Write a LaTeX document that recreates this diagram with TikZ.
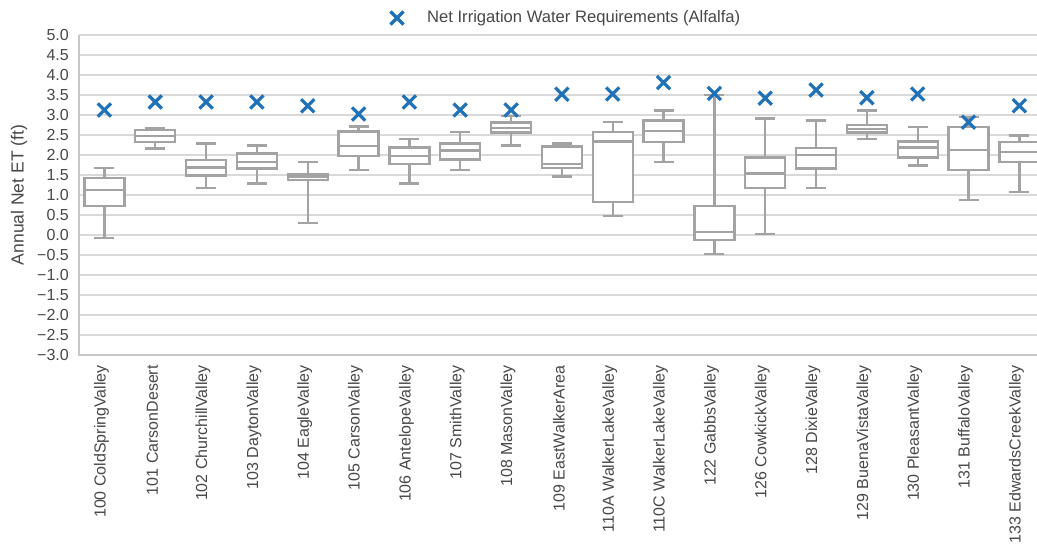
\documentclass[tikz,border=0pt]{standalone}
\usepackage{fontspec}
\setmainfont{Liberation Sans}
\usetikzlibrary{shapes.misc}
\definecolor{gridc}{HTML}{D9D9D9}
\definecolor{axisc}{HTML}{C8C8C8}
\definecolor{boxc}{HTML}{A3A3A3}
\definecolor{txtc}{HTML}{484848}
\definecolor{markc}{RGB}{31,113,184}
\tikzset{
  lbl/.style={font=\fontsize{16}{19}\selectfont, text=txtc, inner sep=0pt},
  gridl/.style={draw=gridc, line width=1.5pt},
  boxst/.style={draw=boxc, line width=2.3pt, fill=white},
  whisk/.style={draw=boxc, line width=2.3pt},
  markx/.style={cross out, draw=markc, line width=3.2pt, minimum size=10pt, inner sep=0pt},
}
\begin{document}
\begin{tikzpicture}[x=1pt, y=-1pt]
\useasboundingbox (0,0) rectangle (1037,553);
\fill[white] (0,0) rectangle (1037,553);
% gridlines and tick labels
\foreach \t [count=\k from 0] in {5.0,4.5,4.0,3.5,3.0,2.5,2.0,1.5,1.0,0.5,0.0,−0.5,−1.0,−1.5,−2.0,−2.5,−3.0}{
  \pgfmathsetmacro\yy{35+20*\k}
  \ifnum\k<16
    \draw[gridl] (79,\yy) -- (1037,\yy);
  \fi
  \node[lbl, anchor=east] (t\k) at (69,\yy) {\t};
}
\draw[draw=axisc, line width=1.5pt] (79,35) -- (79,355);
\draw[draw=axisc, line width=1.8pt] (78.25,355) -- (1037,355);
% y label
\node[lbl, font=\fontsize{17.5}{20}\selectfont, rotate=90] (ylab) at (19,195) {Annual Net ET (ft)};
% legend
\node[markx] (legm) at (397,18) {};
\node[lbl, font=\fontsize{16.6}{19}\selectfont, anchor=west] (legt) at (427,18) {Net Irrigation Water Requirements (Alfalfa)};
% boxes
\foreach \i/\lo/\qa/\me/\qb/\hi/\nr/\lab in {
1/-0.07/0.725/1.125/1.42/1.67/3.125/100 ColdSpringValley,
2/2.16/2.325/2.475/2.625/2.67/3.325/101 CarsonDesert,
3/1.175/1.49/1.69/1.875/2.29/3.325/102 ChurchillValley,
4/1.29/1.66/1.83/2.04/2.24/3.325/103 DaytonValley,
5/0.3/1.375/1.46/1.525/1.83/3.23/104 EagleValley,
6/1.625/1.975/2.225/2.59/2.71/3.025/105 CarsonValley,
7/1.29/1.775/1.975/2.19/2.4/3.325/106 AntelopeValley,
8/1.625/1.89/2.11/2.29/2.58/3.125/107 SmithValley,
9/2.24/2.56/2.67/2.81/2.975/3.125/108 MasonValley,
10/1.46/1.67/1.77/2.21/2.29/3.52/109 EastWalkerArea,
11/0.475/0.83/2.34/2.58/2.825/3.525/110A WalkerLakeValley,
12/1.83/2.325/2.6/2.86/3.11/3.81/110C WalkerLakeValley,
13/-0.475/-0.125/0.083/0.725/3.5/3.54/122 GabbsValley,
14/0.017/1.17/1.54/1.94/2.91/3.42/126 CowkickValley,
15/1.175/1.66/2.0/2.17/2.86/3.625/128 DixieValley,
16/2.4/2.56/2.65/2.75/3.11/3.43/129 BuenaVistaValley,
17/1.74/1.94/2.19/2.34/2.7/3.525/130 PleasantValley,
18/0.875/1.62/2.125/2.7/2.95/2.82/131 BuffaloValley,
19/1.08/1.83/2.08/2.325/2.49/3.23/133 EdwardsCreekValley}{
  \pgfmathsetmacro\cx{79+(\i-0.5)*50.83}
  \pgfmathsetmacro\ylo{235-40*(\lo)}
  \pgfmathsetmacro\yqa{235-40*(\qa)}
  \pgfmathsetmacro\yme{235-40*(\me)}
  \pgfmathsetmacro\yqb{235-40*(\qb)}
  \pgfmathsetmacro\yhi{235-40*(\hi)}
  \pgfmathsetmacro\ynr{235-40*(\nr)}
  \draw[whisk] (\cx,\yhi) -- (\cx,\yqb) (\cx,\yqa) -- (\cx,\ylo);
  \draw[whisk] (\cx-10,\yhi) -- (\cx+10,\yhi) (\cx-10,\ylo) -- (\cx+10,\ylo);
  \draw[boxst] (\cx-20,\yqb) rectangle (\cx+20,\yqa);
  \draw[whisk] (\cx-20,\yme) -- (\cx+20,\yme);
  \node[markx] (m\i) at (\cx,\ynr) {};
  \node[lbl, rotate=90, anchor=east] (lab\i) at (\cx-3,365) {\lab};
}
\end{tikzpicture}
\end{document}
